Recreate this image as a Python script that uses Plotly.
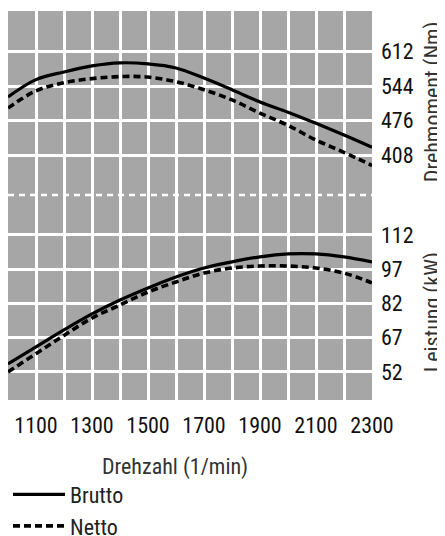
import plotly.graph_objects as go

# ---- data ----
rpm = [1000, 1100, 1200, 1300, 1400, 1500, 1600, 1700, 1800, 1900, 2000, 2100, 2200, 2300]
torque_brutto = [523, 557, 572, 584, 590, 588, 580, 560, 537, 513, 493, 471, 448, 424]
torque_netto = [501, 535, 551, 559, 563, 562, 553, 537, 517, 491, 467, 438, 414, 388]
power_brutto = [55.5, 63.0, 70.4, 77.4, 83.5, 88.8, 93.6, 97.5, 100.2, 102.4, 103.7, 103.7, 102.4, 100.2]
power_netto = [52.0, 60.0, 68.0, 75.6, 81.3, 87.0, 91.4, 95.3, 97.5, 98.4, 98.4, 97.5, 95.3, 91.0]

x_grid_vals = [1100, 1200, 1300, 1400, 1500, 1600, 1700, 1800, 1900, 2000, 2100, 2200, 2300]
x_tick_labels = ["1100", "", "1300", "", "1500", "", "1700", "", "1900", "", "2100", "", "2300"]
torque_ticks = [408, 476, 544, 612]
power_ticks = [52, 67, 82, 97, 112]

FONT = "Roboto Condensed, Liberation Sans Narrow, sans-serif"
BG = "#a6a6a6"
SPLIT = 0.527
TICK_SIZE = 22
TITLE_SIZE = 22

fig = go.Figure()

solid = dict(color="#000000", width=3.2)
dashed = dict(color="#000000", width=3.6, dash="7px,4px")

fig.add_trace(go.Scatter(x=rpm, y=torque_brutto, mode="lines", line=solid, name="Brutto",
                         legendgroup="b", xaxis="x", yaxis="y", line_shape="spline"))
fig.add_trace(go.Scatter(x=rpm, y=torque_netto, mode="lines", line=dashed, name="Netto",
                         legendgroup="n", xaxis="x", yaxis="y", line_shape="spline"))
fig.add_trace(go.Scatter(x=rpm, y=power_brutto, mode="lines", line=solid, name="Brutto",
                         legendgroup="b", showlegend=False, xaxis="x", yaxis="y2", line_shape="spline"))
fig.add_trace(go.Scatter(x=rpm, y=power_netto, mode="lines", line=dashed, name="Netto",
                         legendgroup="n", showlegend=False, xaxis="x", yaxis="y2", line_shape="spline"))

fig.update_layout(
    width=437, height=528,
    margin=dict(l=0, r=73, t=3, b=136, autoexpand=False),
    paper_bgcolor="white",
    plot_bgcolor=BG,
    font=dict(family=FONT, color="#111111", size=TICK_SIZE),
    xaxis=dict(range=[1000, 2300], anchor="y2", tickvals=x_grid_vals, ticktext=x_tick_labels,
               showgrid=True, gridcolor="white", gridwidth=2.5, zeroline=False, showline=False,
               ticks="outside", ticklen=6, tickcolor="rgba(0,0,0,0)",
               tickfont=dict(size=TICK_SIZE, color="#111111")),
    yaxis=dict(domain=[SPLIT, 1], range=[330, 692], side="right", anchor="x",
               tickvals=torque_ticks, showgrid=True, gridcolor="white", gridwidth=2.5,
               zeroline=False, showline=False, ticks="", ticklabelstandoff=8,
               tickfont=dict(size=TICK_SIZE, color="#111111")),
    yaxis2=dict(domain=[0, SPLIT], range=[39.7, 129.5], side="right", anchor="x",
                tickvals=power_ticks, showgrid=True, gridcolor="white", gridwidth=2.5,
                zeroline=False, showline=False, ticks="", ticklabelstandoff=8,
                tickfont=dict(size=TICK_SIZE, color="#111111")),
    legend=dict(x=0, y=-0.189, xanchor="left", yanchor="top", orientation="v",
                font=dict(size=TITLE_SIZE, color="#222222"), bgcolor="rgba(0,0,0,0)",
                itemwidth=52, tracegroupgap=0),
    showlegend=True,
)

fig.add_shape(type="line", xref="paper", yref="paper", x0=0, x1=1, y0=SPLIT, y1=SPLIT,
              line=dict(color="white", width=2.4, dash="6px,5px"))

fig.add_annotation(text="Drehzahl (1/min)", xref="paper", yref="paper", x=0.459, y=-0.172,
                   xanchor="center", yanchor="middle",
                   showarrow=False, font=dict(size=TITLE_SIZE, color="#333333"))
fig.add_annotation(text="Drehmoment (Nm)", xref="paper", yref="paper", x=1.168, y=0.766,
                   xanchor="center", yanchor="middle",
                   textangle=-90, showarrow=False, font=dict(size=TITLE_SIZE, color="#333333"))
fig.add_annotation(text="Leistung (kW)", xref="paper", yref="paper", x=1.168, y=0.226,
                   xanchor="center", yanchor="middle",
                   textangle=-90, showarrow=False, font=dict(size=TITLE_SIZE, color="#333333"))

fig.write_html("out.html")
